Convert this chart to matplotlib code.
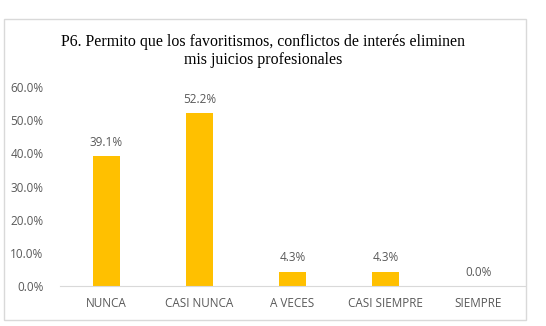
import matplotlib.pyplot as plt
from matplotlib.patches import Rectangle

categories = ["NUNCA", "CASI NUNCA", "A VECES", "CASI SIEMPRE", "SIEMPRE"]
values = [39.1, 52.2, 4.3, 4.3, 0.0]
yticks = [0, 10, 20, 30, 40, 50, 60]

W, H = 546, 326
fig = plt.figure(figsize=(W / 100, H / 100), dpi=100)
fig.patch.set_facecolor("white")

# chart border
fig.patches.append(Rectangle((4 / W, 1 - 320 / H), 522 / W, 301 / H,
                             transform=fig.transFigure, fill=False,
                             edgecolor="#d9d9d9", linewidth=1))

ax = fig.add_axes([60 / W, 1 - 286 / H, 465 / W, 199 / H])
x = range(len(categories))
ax.bar(x, values, width=0.3, color="#FFC000", zorder=2)
for i, v in enumerate(values):
    ax.text(i, v + 2.2, f"{v:.1f}%", ha="center", va="bottom",
            fontsize=8.5, color="#595959", family="Open Sans")

ax.set_xlim(-0.5, len(categories) - 0.5)
ax.set_ylim(0, 60)
ax.set_yticks(yticks)
ax.set_yticklabels([f"{t:.1f}%" for t in yticks])
ax.set_xticks(list(x))
ax.set_xticklabels(categories)
for lab in ax.get_xticklabels() + ax.get_yticklabels():
    lab.set_family("Open Sans")
    lab.set_fontsize(8.5)
    lab.set_color("#595959")
ax.tick_params(length=0, pad=8)
ax.tick_params(axis="y", pad=12)
for s in ["top", "right", "left"]:
    ax.spines[s].set_visible(False)
ax.spines["bottom"].set_color("#d9d9d9")

fig.text(263 / W, 1 - 51 / H,
         "P6. Permito que los favoritismos, conflictos de interés eliminen\nmis juicios profesionales",
         ha="center", va="center", fontsize=11.4, family="Liberation Serif",
         color="#000000", linespacing=1.2)

fig.savefig("out.png", dpi=100)
